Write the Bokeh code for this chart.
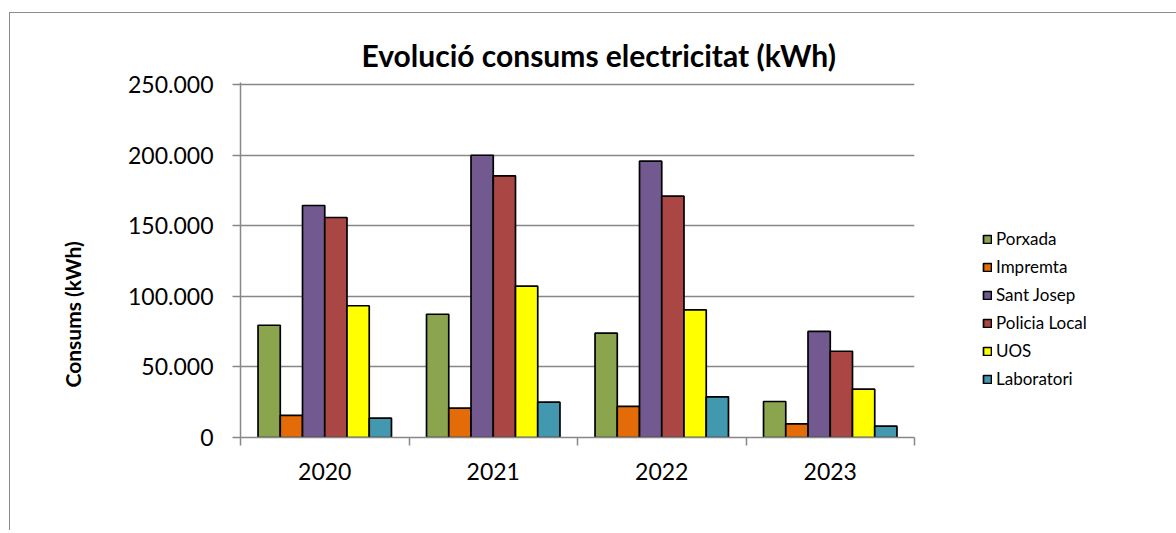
from bokeh.plotting import figure
from bokeh.models import ColumnDataSource, FixedTicker, Legend, LegendItem, Title, Range1d
from bokeh.transform import dodge
from bokeh.embed import file_html
from bokeh.resources import INLINE

years = ["2020", "2021", "2022", "2023"]
series = ["Porxada", "Impremta", "Sant Josep", "Policia Local", "UOS", "Laboratori"]
colors = ["#8BA54E", "#E36C09", "#725990", "#AA4644", "#FFFF00", "#4198AF"]

porxada = [79500, 87300, 73900, 25500]
impremta = [15600, 20800, 22000, 9700]
sant_josep = [164300, 199900, 195700, 75100]
policia_local = [155800, 185300, 170900, 61100]
uos = [93300, 107200, 90400, 34200]
laboratori = [13700, 25000, 28800, 8000]

y_ticks = [0, 50000, 100000, 150000, 200000, 250000]
y_tick_labels = ["0", "50.000", "100.000", "150.000", "200.000", "250.000"]

title_text = "Evolució consums electricitat (kWh)"
y_label_text = "Consums (kWh)"

values = [porxada, impremta, sant_josep, policia_local, uos, laboratori]
keys = ["s%d" % i for i in range(len(series))]
data = {"x": [i + 0.5 for i in range(len(years))]}
for k, v in zip(keys, values):
    data[k] = v
source = ColumnDataSource(data)

FONT = "Lato"
GRAY = "#878787"

p = figure(width=1160, height=517, output_backend="svg", toolbar_location=None,
           x_range=Range1d(0, len(years)), y_range=Range1d(0, 250000 * 355 / 353),
           frame_width=674, frame_height=355,
           min_border_left=230, min_border_right=256, min_border_top=69, min_border_bottom=93)
p.background_fill_color = "white"
p.border_fill_color = "white"
p.outline_line_color = None
p.styles = {"margin-left": "9px", "margin-top": "12px",
            "border-left": "1.5px solid #8c8c8c", "border-top": "1.5px solid #8c8c8c"}

bar_w = 0.132
renderers = []
for j, (k, name, c) in enumerate(zip(keys, series, colors)):
    off = (j - 2.5) * bar_w
    r = p.vbar(x=dodge("x", off, range=p.x_range), top=k, width=bar_w, bottom=0,
               source=source, fill_color=c, line_color="black", line_width=1.7)
    renderers.append(r)

# grid
p.xgrid.visible = False
p.ygrid.ticker = FixedTicker(ticks=y_ticks)
p.ygrid.grid_line_color = GRAY
p.ygrid.grid_line_width = 1.5

# y axis
p.yaxis.ticker = FixedTicker(ticks=y_ticks)
p.yaxis.major_label_overrides = {t: l for t, l in zip(y_ticks, y_tick_labels)}
p.yaxis.axis_line_color = GRAY
p.yaxis.axis_line_width = 1.5
p.yaxis.major_tick_line_color = GRAY
p.yaxis.major_tick_line_width = 1.5
p.yaxis.major_tick_out = 8
p.yaxis.major_tick_in = 0
p.yaxis.minor_tick_line_color = None
p.yaxis.major_label_standoff = 19
p.yaxis.major_label_text_font = FONT
p.yaxis.major_label_text_font_size = "23px"
p.yaxis.major_label_text_color = "black"

# x axis
p.xaxis.ticker = FixedTicker(ticks=[i + 0.5 for i in range(len(years))],
                             minor_ticks=list(range(len(years) + 1)))
p.xaxis.major_label_overrides = {i + 0.5: y for i, y in enumerate(years)}
p.xaxis.axis_line_color = GRAY
p.xaxis.axis_line_width = 1.5
p.xaxis.major_tick_line_color = None
p.xaxis.minor_tick_line_color = GRAY
p.xaxis.minor_tick_line_width = 1.5
p.xaxis.minor_tick_out = 8
p.xaxis.minor_tick_in = 0
p.xaxis.major_label_standoff = 17
p.xaxis.major_label_text_font = FONT
p.xaxis.major_label_text_font_size = "23px"
p.xaxis.major_label_text_color = "black"

# title
p.title.text = title_text
p.title.align = "left"
p.title.offset = 121
p.title.standoff = 20
p.title.text_font = FONT
p.title.text_font_style = "bold"
p.title.text_font_size = "30px"
p.title.text_color = "black"

# y label as side title
p.add_layout(Title(text=y_label_text, align="left", offset=50, vertical_align="bottom",
                   standoff=82, text_font=FONT, text_font_style="bold",
                   text_font_size="21px", text_color="black"), "left")

legend = Legend(items=[LegendItem(label=n, renderers=[r]) for n, r in zip(series, renderers)],
                location=(68, 48), orientation="vertical")
legend.border_line_color = None
legend.background_fill_alpha = 0
legend.padding = 0
legend.margin = 0
legend.spacing = 7
legend.glyph_width = 10
legend.glyph_height = 10
legend.label_height = 20
legend.label_standoff = 4
legend.label_text_font = FONT
legend.label_text_font_size = "17px"
legend.label_text_color = "black"
p.add_layout(legend, "right")

open("out.html", "w").write(file_html(p, INLINE))
